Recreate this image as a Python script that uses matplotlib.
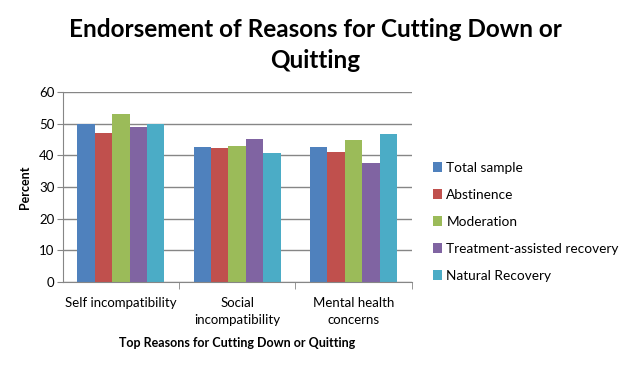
import numpy as np
import matplotlib
matplotlib.use("Agg")
import matplotlib.pyplot as plt

plt.rcParams['font.family'] = ['Lato', 'DejaVu Sans']

categories = ["Self incompatibility", "Social\nincompatibility", "Mental health\nconcerns"]
series_names = ["Total sample", "Abstinence", "Moderation",
                "Treatment-assisted recovery", "Natural Recovery"]
total_sample = [50.0, 42.7, 42.7]
abstinence = [47.2, 42.4, 41.2]
moderation = [52.9, 43.0, 44.9]
treatment = [49.1, 45.3, 37.7]
natural = [50.0, 40.8, 46.8]
colors = ["#4F81BD", "#C0504D", "#9BBB59", "#8064A2", "#4BACC6"]

series = [total_sample, abstinence, moderation, treatment, natural]

fig = plt.figure(figsize=(6.3, 3.77), dpi=100)
ax = fig.add_axes([62.7 / 630, 1 - 282 / 377, 349 / 630, 190 / 377])

x = np.arange(len(categories))
w = 0.15
for i, (vals, name, c) in enumerate(zip(series, series_names, colors)):
    ax.bar(x + (i - 2) * w, vals, width=w, color=c, label=name, zorder=2)

ax.set_xlim(-0.5, 2.5)
ax.set_ylim(0, 60)
ax.set_yticks(range(0, 61, 10))
ax.set_xticks(x)
ax.set_xticklabels(categories, fontsize=9.5, linespacing=1.45)
ax.yaxis.grid(True, color="#868686", linewidth=1, zorder=0)
ax.set_axisbelow(True)
for s in ["top", "right"]:
    ax.spines[s].set_visible(False)
ax.spines["left"].set_color("#868686")
ax.spines["bottom"].set_color("#868686")
ax.tick_params(axis="y", length=4, color="#868686", labelsize=9.5, pad=2)
ax.tick_params(axis="x", length=0, pad=11)
# category separator ticks
ax.set_xticks([0.5, 1.5, 2.5], minor=True)
ax.tick_params(axis="x", which="minor", length=5, color="#868686")

ax.set_ylabel("Percent", fontsize=9, fontweight="bold", labelpad=6)
ax.set_xlabel("Top Reasons for Cutting Down or Quitting", fontsize=9, fontweight="bold", labelpad=8)

fig.text(0.5, 0.88, "Endorsement of Reasons for Cutting Down or\nQuitting",
         ha="center", va="center", fontsize=17.5, fontweight="bold", linespacing=1.4)

ax.legend(loc="center left", bbox_to_anchor=(1.025, 0.316), frameon=False,
          fontsize=9.8, handlelength=0.7, handleheight=0.7, labelspacing=1.1,
          handletextpad=0.3)

fig.savefig("out.png", dpi=100)
